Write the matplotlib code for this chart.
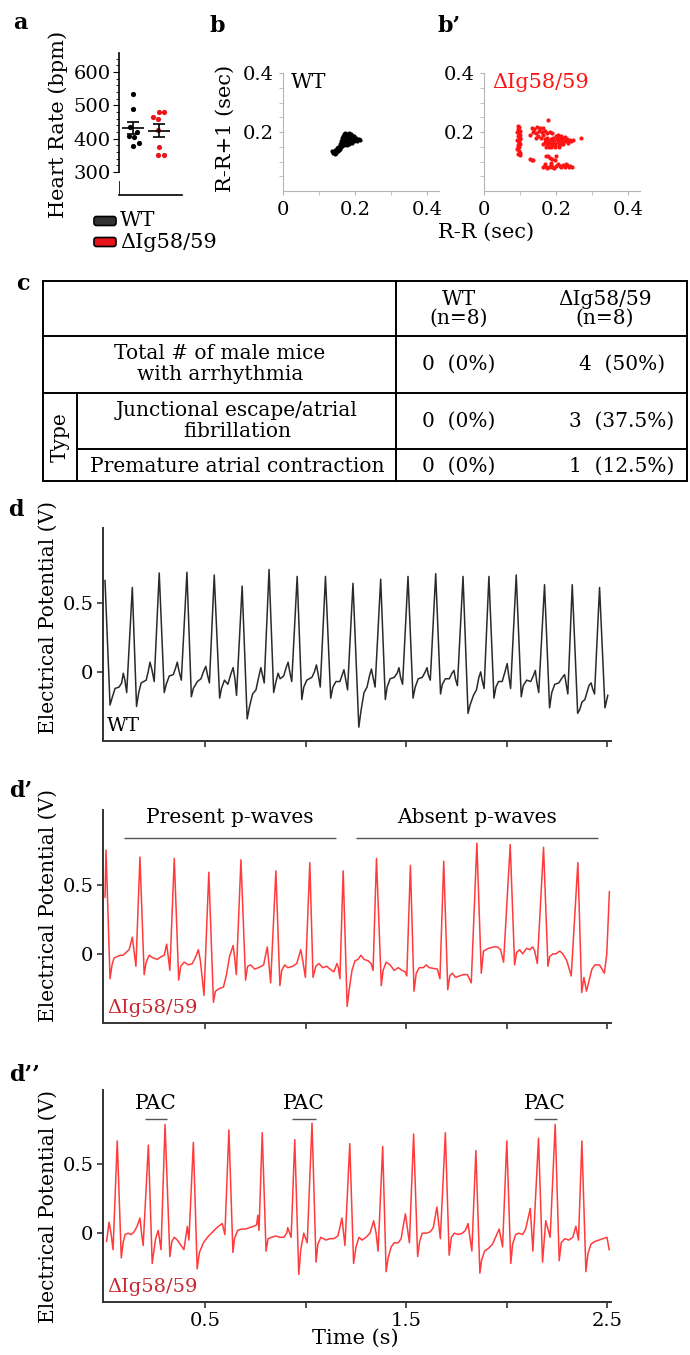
import matplotlib
matplotlib.use('Agg')
import matplotlib.pyplot as plt
from matplotlib.patches import FancyBboxPatch
import numpy as np

plt.rcParams['font.family'] = ['DejaVu Serif', 'DejaVu Sans']

W, H = 690, 1355

# ---------------- data ----------------
# a: heart rate per mouse (bpm) + horizontal jitter of each dot
wt_hr = [533, 489, 434, 420, 408, 405, 388, 378]
wt_jit = [0.0, 0.0, -0.12, 0.15, -0.15, 0.04, 0.23, 0.0]
ko_hr = [481, 481, 464, 458, 426, 376, 351, 351]
ko_jit = [0.0, 0.19, -0.23, -0.04, -0.04, 0.0, -0.04, 0.19]

# b / b': Poincare plot, R-R vs R-R+1 (sec)
wt_rr = [(0.136, 0.134), (0.14, 0.13), (0.143, 0.126), (0.145, 0.138), (0.148, 0.13),
         (0.15, 0.145), (0.152, 0.135), (0.153, 0.15), (0.156, 0.138), (0.157, 0.158),
         (0.159, 0.143), (0.16, 0.168), (0.162, 0.148), (0.163, 0.178), (0.165, 0.152),
         (0.166, 0.185), (0.167, 0.165), (0.168, 0.155), (0.17, 0.192), (0.171, 0.172),
         (0.172, 0.158), (0.174, 0.19), (0.175, 0.178), (0.176, 0.165), (0.177, 0.156),
         (0.179, 0.194), (0.18, 0.182), (0.181, 0.17), (0.182, 0.16), (0.184, 0.188),
         (0.185, 0.176), (0.186, 0.165), (0.188, 0.192), (0.189, 0.18), (0.19, 0.17),
         (0.192, 0.163), (0.193, 0.188), (0.195, 0.177), (0.197, 0.168), (0.198, 0.185),
         (0.2, 0.173), (0.203, 0.18), (0.206, 0.171), (0.21, 0.176), (0.214, 0.172),
         (0.173, 0.198), (0.183, 0.197), (0.161, 0.158), (0.155, 0.145), (0.147, 0.14)]
ko_rr = [(0.093, 0.222), (0.098, 0.218), (0.095, 0.21), (0.1, 0.205), (0.092, 0.2),
         (0.097, 0.195), (0.101, 0.19), (0.094, 0.185), (0.099, 0.178), (0.092, 0.172),
         (0.097, 0.167), (0.101, 0.16), (0.094, 0.155), (0.098, 0.148), (0.092, 0.142),
         (0.097, 0.136), (0.1, 0.13), (0.094, 0.126), (0.099, 0.122), (0.096, 0.163),
         (0.095, 0.2), (0.1, 0.175), (0.093, 0.15),
         (0.165, 0.16), (0.17, 0.165), (0.175, 0.158), (0.178, 0.17), (0.182, 0.162),
         (0.185, 0.175), (0.188, 0.165), (0.19, 0.155), (0.192, 0.18), (0.195, 0.17),
         (0.197, 0.16), (0.2, 0.185), (0.202, 0.175), (0.205, 0.165), (0.207, 0.155),
         (0.21, 0.18), (0.212, 0.17), (0.215, 0.16), (0.218, 0.175), (0.22, 0.168),
         (0.223, 0.178), (0.226, 0.17), (0.23, 0.175), (0.234, 0.168), (0.238, 0.174),
         (0.242, 0.17), (0.248, 0.173), (0.172, 0.15), (0.18, 0.148), (0.186, 0.15),
         (0.176, 0.18), (0.168, 0.175), (0.205, 0.19), (0.213, 0.185), (0.225, 0.182),
         (0.198, 0.15), (0.208, 0.148), (0.22, 0.16), (0.232, 0.162), (0.27, 0.178),
         (0.133, 0.215), (0.14, 0.21), (0.148, 0.218), (0.155, 0.212), (0.137, 0.2),
         (0.145, 0.195), (0.152, 0.205), (0.16, 0.2), (0.163, 0.19), (0.15, 0.185),
         (0.158, 0.178), (0.143, 0.178), (0.168, 0.205), (0.175, 0.195), (0.182, 0.2),
         (0.19, 0.198), (0.179, 0.24), (0.128, 0.19), (0.165, 0.215),
         (0.128, 0.11), (0.132, 0.106), (0.136, 0.104), (0.173, 0.12), (0.178, 0.117),
         (0.183, 0.112), (0.19, 0.108), (0.196, 0.104), (0.2, 0.118),
         (0.165, 0.08), (0.17, 0.085), (0.175, 0.078), (0.18, 0.083), (0.185, 0.088),
         (0.19, 0.082), (0.195, 0.078), (0.2, 0.085), (0.205, 0.09), (0.21, 0.085),
         (0.215, 0.08), (0.22, 0.088), (0.225, 0.083), (0.23, 0.087), (0.235, 0.08),
         (0.24, 0.085), (0.245, 0.082), (0.168, 0.092), (0.186, 0.095), (0.228, 0.093)]

# c: table
tbl_cols = ['WT\n(n=8)', '\u0394Ig58/59\n(n=8)']
tbl_rows = ['Total # of male mice\nwith arrhythmia',
            'Junctional escape/atrial\nfibrillation',
            'Premature atrial contraction']
tbl_wt = ['0  (0%)', '0  (0%)', '0  (0%)']
tbl_ko = ['4  (50%)', '3  (37.5%)', '1  (12.5%)']

# d: WT ECG trace (time s, potential V)
wt_ecg = [
    (0.000, 0.66), (0.025, -0.24), (0.035, -0.19), (0.05, -0.12), (0.07, -0.11), (0.083, -0.08), (0.091, -0.01), (0.099, -0.06), (0.108, -0.15),
    (0.136, 0.61), (0.157, -0.25), (0.168, -0.15), (0.18, -0.08), (0.205, -0.06), (0.215, 0.0), (0.224, 0.07), (0.233, 0.02), (0.245, -0.07),
    (0.270, 0.715), (0.295, -0.15), (0.305, -0.09), (0.32, -0.03), (0.34, -0.02), (0.352, 0.03), (0.360, 0.07), (0.368, 0.01), (0.380, -0.06),
    (0.408, 0.72), (0.430, -0.18), (0.440, -0.12), (0.46, -0.07), (0.478, -0.05), (0.49, 0.0), (0.502, 0.04), (0.51, -0.02), (0.520, -0.08),
    (0.544, 0.70), (0.571, -0.19), (0.58, -0.12), (0.595, -0.06), (0.612, -0.09), (0.628, -0.01), (0.638, 0.03), (0.647, -0.05), (0.655, -0.17),
    (0.683, 0.62), (0.708, -0.34), (0.72, -0.25), (0.735, -0.16), (0.752, -0.13), (0.765, -0.04), (0.776, 0.03), (0.785, -0.03), (0.793, -0.08),
    (0.817, 0.74), (0.840, -0.15), (0.85, -0.08), (0.862, -0.01), (0.872, -0.05), (0.89, -0.03), (0.902, 0.03), (0.912, 0.07), (0.92, 0.0), (0.930, -0.07),
    (0.957, 0.69), (0.980, -0.20), (0.99, -0.11), (1.005, -0.06), (1.03, -0.04), (1.043, 0.0), (1.053, 0.05), (1.062, -0.02), (1.072, -0.11),
    (1.098, 0.69), (1.124, -0.19), (1.135, -0.11), (1.15, -0.07), (1.17, -0.07), (1.182, -0.02), (1.190, 0.015), (1.198, -0.05), (1.208, -0.13),
    (1.235, 0.64), (1.264, -0.40), (1.275, -0.28), (1.29, -0.15), (1.305, -0.11), (1.317, -0.03), (1.327, 0.02), (1.335, -0.04), (1.345, -0.11),
    (1.373, 0.67), (1.396, -0.20), (1.405, -0.11), (1.42, -0.05), (1.44, -0.04), (1.455, -0.01), (1.464, 0.03), (1.472, -0.04), (1.482, -0.09),
    (1.509, 0.69), (1.534, -0.19), (1.545, -0.11), (1.56, -0.05), (1.58, -0.04), (1.595, 0.0), (1.604, 0.03), (1.61, -0.02), (1.620, -0.06),
    (1.647, 0.71), (1.671, -0.16), (1.68, -0.09), (1.695, -0.05), (1.715, -0.05), (1.728, -0.01), (1.738, 0.01), (1.745, -0.05), (1.755, -0.10),
    (1.783, 0.69), (1.808, -0.30), (1.818, -0.24), (1.835, -0.17), (1.85, -0.13), (1.862, -0.04), (1.871, 0.0), (1.878, -0.06), (1.888, -0.12),
    (1.912, 0.69), (1.937, -0.19), (1.947, -0.11), (1.96, -0.07), (1.978, -0.07), (1.992, 0.0), (2.003, 0.06), (2.01, -0.02), (2.020, -0.12),
    (2.048, 0.70), (2.073, -0.18), (2.083, -0.10), (2.1, -0.06), (2.12, -0.07), (2.133, -0.03), (2.143, 0.01), (2.15, -0.07), (2.160, -0.15),
    (2.189, 0.63), (2.214, -0.26), (2.225, -0.15), (2.24, -0.09), (2.26, -0.08), (2.278, -0.04), (2.289, -0.02), (2.297, -0.09), (2.305, -0.16),
    (2.327, 0.63), (2.354, -0.30), (2.365, -0.27), (2.375, -0.22), (2.39, -0.2), (2.41, -0.1), (2.421, -0.08), (2.428, -0.12), (2.438, -0.16),
    (2.463, 0.61), (2.490, -0.26), (2.504, -0.17)]

# d': dIg58/59 ECG trace, present / absent p-waves
ko_ecg = [
    (0.000, 0.41), (0.005, 0.75), (0.025, -0.18), (0.035, -0.08), (0.045, -0.03), (0.06, -0.02), (0.075, -0.01), (0.09, -0.01), (0.105, 0.01), (0.12, 0.03), (0.136, 0.12), (0.146, 0.0), (0.154, -0.09),
    (0.174, 0.70), (0.195, -0.15), (0.205, -0.06), (0.22, -0.01), (0.24, -0.03), (0.26, -0.04), (0.28, -0.02), (0.295, -0.01), (0.307, 0.07), (0.315, -0.02), (0.323, -0.12),
    (0.345, 0.69), (0.367, -0.19), (0.377, -0.09), (0.395, -0.06), (0.415, -0.08), (0.435, -0.07), (0.452, -0.02), (0.465, 0.03), (0.475, -0.05), (0.493, -0.30),
    (0.517, 0.59), (0.540, -0.35), (0.55, -0.27), (0.57, -0.25), (0.59, -0.24), (0.605, -0.15), (0.62, -0.02), (0.638, 0.06), (0.645, -0.02), (0.654, -0.15),
    (0.677, 0.68), (0.700, -0.19), (0.71, -0.09), (0.725, -0.08), (0.745, -0.11), (0.765, -0.10), (0.79, -0.08), (0.808, 0.05), (0.815, -0.05), (0.825, -0.21),
    (0.851, 0.60), (0.871, -0.23), (0.88, -0.12), (0.895, -0.08), (0.91, -0.10), (0.935, -0.09), (0.955, -0.07), (0.975, 0.03), (0.985, -0.05), (0.998, -0.17),
    (1.020, 0.66), (1.036, -0.17), (1.05, -0.09), (1.065, -0.07), (1.085, -0.10), (1.105, -0.09), (1.12, -0.11), (1.14, -0.13), (1.155, -0.07), (1.162, -0.10), (1.17, -0.18),
    (1.186, 0.60), (1.206, -0.38), (1.215, -0.27), (1.23, -0.12), (1.245, -0.05), (1.26, -0.04), (1.275, -0.01), (1.29, -0.04), (1.31, -0.05), (1.325, -0.07), (1.335, -0.12),
    (1.352, 0.69), (1.376, -0.23), (1.385, -0.12), (1.40, -0.06), (1.42, -0.08), (1.44, -0.12), (1.46, -0.10), (1.48, -0.12), (1.495, -0.13), (1.503, -0.16),
    (1.521, 0.64), (1.539, -0.27), (1.55, -0.14), (1.565, -0.10), (1.585, -0.10), (1.60, -0.08), (1.615, -0.10), (1.655, -0.11), (1.668, -0.18),
    (1.687, 0.67), (1.707, -0.26), (1.717, -0.16), (1.73, -0.14), (1.745, -0.17), (1.765, -0.16), (1.785, -0.15), (1.805, -0.15), (1.824, -0.21),
    (1.852, 0.80), (1.874, -0.14), (1.885, 0.02), (1.91, 0.04), (1.935, 0.05), (1.955, 0.05), (1.97, 0.03), (1.985, -0.06),
    (2.018, 0.79), (2.040, -0.08), (2.05, 0.01), (2.065, 0.03), (2.08, 0.0), (2.10, 0.04), (2.115, 0.03), (2.13, 0.05), (2.14, 0.02), (2.153, -0.07),
    (2.184, 0.77), (2.206, -0.09), (2.215, -0.02), (2.23, 0.0), (2.245, 0.0), (2.265, 0.02), (2.28, 0.0), (2.30, -0.05), (2.322, -0.16),
    (2.355, 0.66), (2.374, -0.28), (2.385, -0.17), (2.398, -0.27), (2.41, -0.20), (2.425, -0.11), (2.44, -0.08), (2.463, -0.08), (2.487, -0.14), (2.499, 0.0), (2.512, 0.45)]

# d'': dIg58/59 ECG trace with premature atrial contractions
pac_ecg = [
    (0.008, -0.06), (0.02, 0.08), (0.03, 0.0), (0.04, -0.12),
    (0.061, 0.67), (0.081, -0.18), (0.09, -0.07), (0.10, -0.01), (0.115, 0.0), (0.13, -0.01), (0.145, 0.01), (0.16, 0.05), (0.174, 0.11), (0.182, 0.0), (0.19, -0.09),
    (0.216, 0.64), (0.235, -0.22), (0.252, -0.04), (0.265, 0.02), (0.279, -0.12),
    (0.299, 0.79), (0.323, -0.17), (0.333, -0.06), (0.345, -0.03), (0.36, -0.05), (0.393, -0.12), (0.41, 0.05), (0.418, -0.05),
    (0.440, 0.66), (0.459, -0.26), (0.47, -0.14), (0.49, -0.07), (0.51, -0.03), (0.53, 0.0), (0.55, 0.03), (0.565, 0.05), (0.584, 0.07), (0.597, -0.01),
    (0.617, 0.75), (0.637, -0.14), (0.645, -0.04), (0.66, 0.02), (0.68, 0.03), (0.70, 0.03), (0.72, 0.04), (0.74, 0.05), (0.755, 0.06), (0.761, 0.13), (0.767, 0.02),
    (0.783, 0.73), (0.802, -0.13), (0.812, -0.04), (0.83, -0.03), (0.85, -0.02), (0.87, -0.03), (0.89, -0.03), (0.905, 0.0), (0.910, 0.04), (0.927, -0.03),
    (0.945, 0.68), (0.965, -0.30), (0.975, -0.12), (0.990, 0.0), (1.007, -0.07),
    (1.031, 0.80), (1.051, -0.21), (1.06, -0.08), (1.075, -0.03), (1.10, -0.05), (1.12, -0.04), (1.14, -0.04), (1.16, -0.02), (1.18, 0.11), (1.195, -0.09),
    (1.219, 0.65), (1.238, -0.22), (1.25, -0.10), (1.265, -0.03), (1.28, -0.05), (1.30, -0.03), (1.32, 0.0), (1.338, 0.09), (1.35, 0.0), (1.36, -0.13),
    (1.383, 0.63), (1.40, -0.28), (1.41, -0.18), (1.425, -0.10), (1.44, -0.07), (1.46, -0.07), (1.475, -0.04), (1.485, 0.05), (1.496, 0.14), (1.516, -0.07),
    (1.537, 0.72), (1.557, -0.17), (1.567, -0.06), (1.58, 0.0), (1.60, 0.0), (1.62, 0.01), (1.635, 0.04), (1.653, 0.19), (1.670, -0.04),
    (1.695, 0.73), (1.714, -0.16), (1.725, -0.03), (1.74, 0.0), (1.76, -0.01), (1.78, 0.0), (1.795, 0.02), (1.808, 0.07), (1.827, -0.13),
    (1.847, 0.60), (1.867, -0.29), (1.875, -0.20), (1.89, -0.13), (1.91, -0.11), (1.93, -0.08), (1.945, -0.03), (1.963, 0.03), (1.98, -0.10),
    (2.001, 0.67), (2.021, -0.22), (2.03, -0.08), (2.045, -0.01), (2.06, 0.0), (2.08, -0.01), (2.095, 0.03), (2.118, 0.18), (2.131, -0.13),
    (2.159, 0.69), (2.179, -0.21), (2.195, 0.09), (2.217, -0.03),
    (2.242, 0.79), (2.262, -0.20), (2.272, -0.07), (2.29, -0.04), (2.31, -0.05), (2.33, -0.03), (2.345, 0.05), (2.358, -0.05),
    (2.375, 0.67), (2.395, -0.28), (2.405, -0.15), (2.42, -0.08), (2.44, -0.06), (2.46, -0.05), (2.48, -0.04), (2.50, -0.03), (2.511, -0.12)]

pwave_spans = [(0.095, 1.149, 'Present p-waves'), (1.249, 2.453, 'Absent p-waves')]
pac_spans = [(0.20, 0.31), (0.93, 1.05), (2.135, 2.25)]

# ---------------- figure ----------------
fig = plt.figure(figsize=(W / 100, H / 100), dpi=100)
ov = fig.add_axes([0, 0, 1, 1])
ov.set_xlim(0, W)
ov.set_ylim(H, 0)
ov.axis('off')


def pax(x0, y0, x1, y1):
    return fig.add_axes([x0 / W, 1 - y1 / H, (x1 - x0) / W, (y1 - y0) / H])


# panel letters
for lab, x, y in [('a', 20, 23), ('b', 217, 26), ('b\u2019', 449, 26), ('c', 23, 284),
                  ('d', 16, 510), ('d\u2019', 21, 791), ('d\u2019\u2019', 25, 1075)]:
    ov.text(x, y, lab, fontsize=16, fontweight='bold', ha='center', va='center')

# ---- a: heart rate ----
ax = pax(119, 53, 182, 195)
ax.set_xlim(0.46, 2.88)
ax.set_ylim(231, 657)
for i, (hr, jit, col) in enumerate([(wt_hr, wt_jit, 'black'), (ko_hr, ko_jit, '#e8141b')]):
    xpos = i + 1
    ax.scatter(np.array(jit) + xpos, hr, s=14, color=col, zorder=3, linewidths=0)
    m = np.mean(hr)
    sem = np.std(hr, ddof=1) / np.sqrt(len(hr))
    ax.hlines(m, xpos - 0.43, xpos + 0.43, color='black', lw=1.2, zorder=4)
    ax.errorbar(xpos, m, yerr=sem, color='black', lw=1.2, capsize=4, capthick=1.2, zorder=4)
for s in ['top', 'right']:
    ax.spines[s].set_visible(False)
ax.spines['left'].set_bounds(300, 657)
ax.axvline(0.46, ymin=0, ymax=(270 - 231) / (657 - 231), color='black', lw=1.2)
ax.spines['left'].set_linewidth(1.2)
ax.spines['bottom'].set_linewidth(1.2)
ax.set_yticks([300, 400, 500, 600])
ax.set_yticks(np.arange(300, 660, 20), minor=True)
ax.set_xticks([])
ax.tick_params(axis='y', labelsize=14, length=4, pad=2)
ax.tick_params(axis='y', which='minor', length=2)
ov.text(58, 124, 'Heart Rate (bpm)', rotation=90, fontsize=15, ha='center', va='center')
# legend
for y, col, txt in [(221, '#333333', 'WT'), (242, '#e8141b', '\u0394Ig58/59')]:
    ov.add_patch(FancyBboxPatch((94, y - 4.5), 22, 9, boxstyle='round,pad=0,rounding_size=2.5',
                                facecolor=col, edgecolor='black', lw=1.2))
    ov.text(120, y, txt, fontsize=15, ha='left', va='center')

# ---- b / b': Poincare ----
for x0, pts, col, txt in [(283, wt_rr, 'black', 'WT'), (484, ko_rr, '#ff1414', '\u0394Ig58/59')]:
    ax = pax(x0, 73, x0 + 156, 191)
    xs, ys = zip(*pts)
    ax.scatter(xs, ys, s=9, color=col, linewidths=0)
    ax.set_xlim(0, 0.433)
    ax.set_ylim(0, 0.4)
    for s in ['top', 'right']:
        ax.spines[s].set_visible(False)
    for s in ['left', 'bottom']:
        ax.spines[s].set_color('#b5b5b5')
    ax.set_xticks([0, 0.2, 0.4])
    ax.set_xticklabels(['0', '0.2', '0.4'])
    ax.set_yticks([0.2, 0.4])
    ax.set_yticklabels(['0.2', '0.4'])
    ax.set_xticks([0.1, 0.3], minor=True)
    ax.set_yticks(np.arange(0.05, 0.4, 0.05), minor=True)
    ax.tick_params(labelsize=14, length=3, color='#b5b5b5', pad=4)
    ax.tick_params(which='minor', length=3, color='#b5b5b5')
    ax.text(0.05, 1.0, txt, transform=ax.transAxes, fontsize=15, color=col, ha='left', va='top')
ov.text(225, 128, 'R-R+1 (sec)', rotation=90, fontsize=15, ha='center', va='center')
ov.text(486, 232, 'R-R (sec)', fontsize=15, ha='center', va='center')

# ---- c: table ----
tl, tr_, tt, tb = 43, 687, 281, 481
lw = 1.4
ov.add_patch(plt.Rectangle((tl, tt), tr_ - tl, tb - tt, fill=False, lw=lw, edgecolor='black'))
ov.plot([tl, tr_], [336, 336], color='black', lw=lw)
ov.plot([tl, tr_], [393, 393], color='black', lw=lw)
ov.plot([77, tr_], [449, 449], color='black', lw=lw)
ov.plot([396, 396], [tt, tb], color='black', lw=lw)
ov.plot([77, 77], [393, tb], color='black', lw=lw)
fs = 14.5
ov.text(459, 309, tbl_cols[0], fontsize=fs, ha='center', va='center', linespacing=1.0)
ov.text(605, 309, tbl_cols[1], fontsize=fs, ha='center', va='center', linespacing=1.0)
row_y = [364, 421, 466]
row_x = [220, 237, 237]
for lab, ry, rx, v1, v2 in zip(tbl_rows, row_y, row_x, tbl_wt, tbl_ko):
    ov.text(rx, ry, lab, fontsize=fs, ha='center', va='center', linespacing=1.1)
    ov.text(459, ry, v1, fontsize=fs, ha='center', va='center')
    ov.text(622, ry, v2, fontsize=fs, ha='center', va='center')
ov.text(60, 437, 'Type', rotation=90, fontsize=fs, ha='center', va='center')

# ---- d, d', d'': ECG traces ----
ecg_panels = [(528, 741, wt_ecg, '#2a2a2a', 'WT', 'black', 0.58),
              (810, 1023, ko_ecg, '#ff3b3b', '\u0394Ig58/59', '#c8282d', 0.55),
              (1090, 1302, pac_ecg, '#ff3b3b', '\u0394Ig58/59', '#c8282d', 0.45)]
ecg_axes = []
for k, (y0, y1, trace, col, tag, tagcol, ylab_y) in enumerate(ecg_panels):
    ax = pax(103, y0, 611, y1)
    t, v = zip(*trace)
    ax.plot(t, v, color=col, lw=1.1)
    ax.set_xlim(-0.01, 2.52)
    ax.set_ylim(-0.5, 1.04)
    for s in ['top', 'right']:
        ax.spines[s].set_visible(False)
    for s in ['left', 'bottom']:
        ax.spines[s].set_color('#333333')
        ax.spines[s].set_linewidth(1.4)
    ax.set_yticks([0, 0.5])
    ax.set_yticklabels(['0', '0.5'])
    ax.set_xticks([0.5, 1.0, 1.5, 2.0, 2.5])
    if k == 2:
        ax.set_xticklabels(['0.5', '', '1.5', '', '2.5'])
    else:
        ax.set_xticklabels([])
    ax.tick_params(labelsize=14, length=4, width=1.2, color='#333333', pad=3)
    ax.text(0.008, 0.03, tag, transform=ax.transAxes, fontsize=14, color=tagcol,
            ha='left', va='bottom')
    ax.text(-0.108, ylab_y, 'Electrical Potential (V)', transform=ax.transAxes, rotation=90,
            fontsize=14.5, ha='center', va='center')
    ecg_axes.append(ax)

ax = ecg_axes[1]
for a0, a1, txt in pwave_spans:
    ax.hlines(0.84, a0, a1, color='#555555', lw=1.0)
    ax.text((a0 + a1) / 2, 0.985, txt, fontsize=14.5, ha='center', va='center')
ax = ecg_axes[2]
for a0, a1 in pac_spans:
    ax.hlines(0.83, a0, a1, color='#555555', lw=1.0)
    ax.text((a0 + a1) / 2, 0.94, 'PAC', fontsize=14.5, ha='center', va='center')
ov.text(355, 1338, 'Time (s)', fontsize=15, ha='center', va='center')

fig.savefig('out.png', dpi=100)
